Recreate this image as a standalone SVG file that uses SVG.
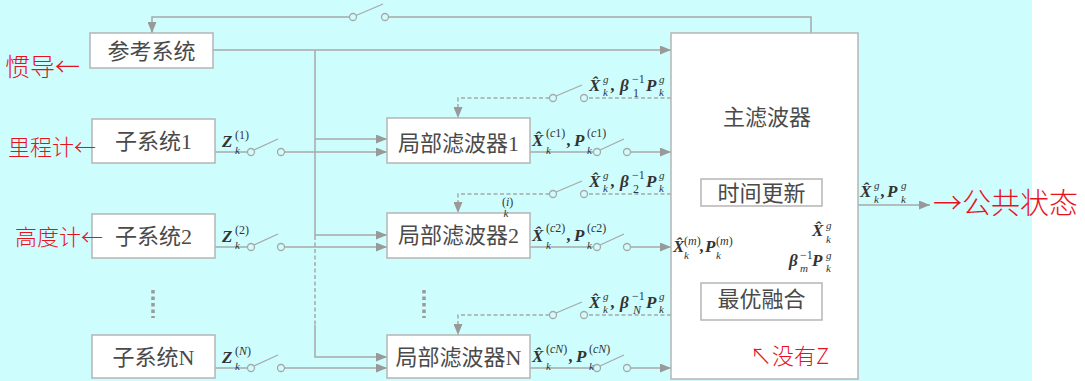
<svg xmlns="http://www.w3.org/2000/svg" width="1085" height="381" viewBox="0 0 1085 381">
<style>
.bx{fill:#fff;stroke:#b5b5b5;stroke-width:1.5}
.t{font-family:"Liberation Serif","Noto Sans CJK SC",serif;font-size:22px;fill:#4a4a4a;text-anchor:middle}
.ln{fill:none;stroke:#a8a8a8;stroke-width:1.5}
.dl{fill:none;stroke:#a8a8a8;stroke-width:1.5;stroke-dasharray:4 2.5}
.dot{fill:none;stroke:#9a9a9a;stroke-width:3.5;stroke-dasharray:3.5 3}
.sw{fill:none;stroke:#a8a8a8;stroke-width:1.3}
.m{font-family:"Liberation Serif",serif;fill:#333}
.mb{font-size:17px;font-weight:bold;font-style:italic}
.ms{font-size:11px;font-style:italic}
.mp{font-size:12px}
.i{font-style:italic}
.hw{font-family:"Noto Sans CJK SC",sans-serif;fill:#e8121e;font-weight:300}
</style>
<defs>
<marker id="ah" markerUnits="userSpaceOnUse" markerWidth="11" markerHeight="9" refX="11" refY="4.5" orient="auto">
<path d="M0,0 L11,4.5 L0,9 z" fill="#999"/>
</marker>
</defs>
<rect x="0" y="0" width="1032" height="381" fill="#cefdfe"/>
<rect x="1032" y="0" width="53" height="381" fill="#fff"/>

<g id="connectors">
<path class="ln" d="M811,33 V17 H388.5"/>
<circle class="sw" cx="385" cy="17" r="3.5"/>
<circle class="sw" cx="353" cy="17" r="3.5"/>
<path class="sw" d="M356,15.5 L383,4"/>
<path class="ln" d="M349.5,17 H152 V33" marker-end="url(#ah)"/>
<path class="ln" d="M213,50 H671" marker-end="url(#ah)"/>
<path class="ln" d="M315,50 V236"/>
<path class="dl" d="M315,236 V325"/>
<path class="ln" d="M315,325 V357 H387" marker-end="url(#ah)"/>
<path class="ln" d="M315,139 H387" marker-end="url(#ah)"/>
<path class="ln" d="M315,235 H387" marker-end="url(#ah)"/>
<path class="ln" d="M215,152 H247.5"/><circle class="sw" cx="251" cy="152" r="3.5"/><path class="sw" d="M254,150 L278,139"/><circle class="sw" cx="281" cy="152" r="3.5"/><path class="ln" d="M284.5,152 H387" marker-end="url(#ah)"/>
<path class="ln" d="M215,247 H247.5"/><circle class="sw" cx="251" cy="247" r="3.5"/><path class="sw" d="M254,245 L278,234"/><circle class="sw" cx="281" cy="247" r="3.5"/><path class="ln" d="M284.5,247 H387" marker-end="url(#ah)"/>
<path class="ln" d="M215,368 H247.5"/><circle class="sw" cx="251" cy="368" r="3.5"/><path class="sw" d="M254,366 L278,355"/><circle class="sw" cx="281" cy="368" r="3.5"/><path class="ln" d="M284.5,368 H387" marker-end="url(#ah)"/>
<path class="ln" d="M530,152 H593.5"/><circle class="sw" cx="597" cy="152" r="3.5"/><path class="sw" d="M600,150 L624,139"/><circle class="sw" cx="627" cy="152" r="3.5"/><path class="ln" d="M630.5,152 H671" marker-end="url(#ah)"/>
<path class="ln" d="M530,247 H593.5"/><circle class="sw" cx="597" cy="247" r="3.5"/><path class="sw" d="M600,245 L624,234"/><circle class="sw" cx="627" cy="247" r="3.5"/><path class="ln" d="M630.5,247 H671" marker-end="url(#ah)"/>
<path class="ln" d="M530,368 H593.5"/><circle class="sw" cx="597" cy="368" r="3.5"/><path class="sw" d="M600,366 L624,355"/><circle class="sw" cx="627" cy="368" r="3.5"/><path class="ln" d="M630.5,368 H671" marker-end="url(#ah)"/>
<path class="dl" d="M671,98 H587.5"/><circle class="sw" cx="584" cy="98" r="3.5"/><circle class="sw" cx="553" cy="98" r="3.5"/><path class="sw" d="M556,96 L582,85"/><path class="dl" d="M549.5,98 H458 V118" marker-end="url(#ah)"/>
<path class="dl" d="M671,194 H587.5"/><circle class="sw" cx="584" cy="194" r="3.5"/><circle class="sw" cx="553" cy="194" r="3.5"/><path class="sw" d="M556,192 L582,181"/><path class="dl" d="M549.5,194 H458 V213" marker-end="url(#ah)"/>
<path class="dl" d="M671,315 H587.5"/><circle class="sw" cx="584" cy="315" r="3.5"/><circle class="sw" cx="553" cy="315" r="3.5"/><path class="sw" d="M556,313 L582,302"/><path class="dl" d="M549.5,315 H458 V335" marker-end="url(#ah)"/>
<path class="ln" d="M730,206 V283" marker-end="url(#ah)"/>
<path class="ln" d="M822,292 H838 V193 H822" marker-end="url(#ah)"/>
<path class="ln" d="M858,205 H930" marker-end="url(#ah)"/>
<path class="dot" d="M153,290 V318"/>
<path class="dot" d="M424,290 V318"/>
</g>

<g id="ref"><rect class="bx" x="90" y="33" width="123" height="35"/><text class="t" x="151.5" y="59">参考系统</text></g>
<g id="sub1"><rect class="bx" x="92" y="119" width="123" height="44"/><text class="t" x="153.5" y="149">子系统1</text></g>
<g id="sub2"><rect class="bx" x="92" y="214" width="123" height="44"/><text class="t" x="153.5" y="244">子系统2</text></g>
<g id="subN"><rect class="bx" x="92" y="335" width="123" height="43"/><text class="t" x="153.5" y="365">子系统N</text></g>
<g id="lf1"><rect class="bx" x="387" y="118" width="143" height="45"/><text class="t" x="458.5" y="151">局部滤波器1</text></g>
<g id="lf2"><rect class="bx" x="387" y="213" width="143" height="45"/><text class="t" x="458.5" y="243">局部滤波器2</text></g>
<g id="lfN"><rect class="bx" x="387" y="335" width="143" height="43"/><text class="t" x="458.5" y="365">局部滤波器N</text></g>
<g id="master"><rect class="bx" x="671" y="33" width="187" height="346"/><text class="t" x="767" y="125">主滤波器</text></g>
<g id="timeupd"><rect class="bx" x="701" y="179" width="121" height="27"/><text class="t" x="761.5" y="201">时间更新</text></g>
<g id="fusion"><rect class="bx" x="701" y="283" width="121" height="37"/><text class="t" x="761.5" y="307">最优融合</text></g>

<g id="labels" class="m">
<text class="mb" x="222" y="147">Z</text><text class="ms" x="235" y="154">k</text><text class="mp" x="235" y="139">(1)</text>
<text class="mb" x="222" y="242">Z</text><text class="ms" x="235" y="249">k</text><text class="mp" x="235" y="234">(2)</text>
<text class="mb" x="222" y="363">Z</text><text class="ms" x="235" y="370">k</text><text class="mp" x="235" y="355">(<tspan class="i">N</tspan>)</text>

<text class="mb" x="532" y="146">X̂</text><text class="ms" x="546" y="154">k</text><text class="mp" x="546" y="137">(<tspan class="i">c</tspan>1)</text><text class="mb" x="567" y="146">,</text><text class="mb" x="574" y="146">P</text><text class="ms" x="587" y="154">k</text><text class="mp" x="587" y="137">(<tspan class="i">c</tspan>1)</text>
<text class="mb" x="532" y="241">X̂</text><text class="ms" x="546" y="249">k</text><text class="mp" x="546" y="232">(<tspan class="i">c</tspan>2)</text><text class="mb" x="567" y="241">,</text><text class="mb" x="574" y="241">P</text><text class="ms" x="587" y="249">k</text><text class="mp" x="587" y="232">(<tspan class="i">c</tspan>2)</text>
<text class="mb" x="532" y="362">X̂</text><text class="ms" x="546" y="370">k</text><text class="mp" x="546" y="353">(<tspan class="i">cN</tspan>)</text><text class="mb" x="569" y="362">,</text><text class="mb" x="576" y="362">P</text><text class="ms" x="589" y="370">k</text><text class="mp" x="589" y="353">(<tspan class="i">cN</tspan>)</text>

<text class="mb" x="589" y="91">X̂</text><text class="ms" x="603" y="83">g</text><text class="ms" x="603" y="96">k</text><text class="mb" x="611" y="91">,</text><text class="mb" x="620" y="91">β</text><text class="mp" x="632" y="83">−1</text><text class="mp" x="633" y="97">1</text><text class="mb" x="646" y="91">P</text><text class="ms" x="659" y="83">g</text><text class="ms" x="659" y="96">k</text>
<text class="mb" x="589" y="187">X̂</text><text class="ms" x="603" y="179">g</text><text class="ms" x="603" y="192">k</text><text class="mb" x="611" y="187">,</text><text class="mb" x="620" y="187">β</text><text class="mp" x="632" y="179">−1</text><text class="mp" x="633" y="193">2</text><text class="mb" x="646" y="187">P</text><text class="ms" x="659" y="179">g</text><text class="ms" x="659" y="192">k</text>
<text class="mb" x="589" y="308">X̂</text><text class="ms" x="603" y="300">g</text><text class="ms" x="603" y="313">k</text><text class="mb" x="611" y="308">,</text><text class="mb" x="620" y="308">β</text><text class="mp" x="632" y="300">−1</text><text class="mp i" x="633" y="314">N</text><text class="mb" x="646" y="308">P</text><text class="ms" x="659" y="300">g</text><text class="ms" x="659" y="313">k</text>

<text class="mp" x="502" y="206" font-size="7">(<tspan class="i">i</tspan>)</text><text class="ms" x="503.5" y="217" font-size="7">k</text>

<text class="mb" x="673" y="252" font-size="14">X̂</text><text class="ms" x="684" y="259" font-size="9">k</text><text class="mp" x="684" y="245" font-size="10">(<tspan class="i">m</tspan>)</text><text class="mb" x="700" y="252" font-size="14">,</text><text class="mb" x="705" y="252" font-size="14">P</text><text class="ms" x="716" y="259" font-size="9">k</text><text class="mp" x="716" y="245" font-size="10">(<tspan class="i">m</tspan>)</text>
<text class="mb" x="812" y="236">X̂</text><text class="ms" x="826" y="229">g</text><text class="ms" x="826" y="243">k</text>
<text class="mb" x="789" y="266">β</text><text class="mp" x="800" y="259">−1</text><text class="ms" x="800" y="272">m</text><text class="mb" x="812" y="266">P</text><text class="ms" x="826" y="259">g</text><text class="ms" x="826" y="272">k</text>
<text class="mb" x="860" y="197">X̂</text><text class="ms" x="874" y="189">g</text><text class="ms" x="874" y="203">k</text><text class="mb" x="881" y="197">,</text><text class="mb" x="887" y="197">P</text><text class="ms" x="901" y="189">g</text><text class="ms" x="901" y="203">k</text>
</g>

<g id="annotations">
<text class="hw" x="5" y="76" font-size="25">惯导←</text>
<text class="hw" x="8" y="155" font-size="22">里程计←</text>
<text class="hw" x="15" y="245" font-size="22">高度计←</text>
<text class="hw" x="933" y="214" font-size="29">→公共状态</text>
<text class="hw" x="750" y="364" font-size="22">↖没有Z</text>
</g>
</svg>
